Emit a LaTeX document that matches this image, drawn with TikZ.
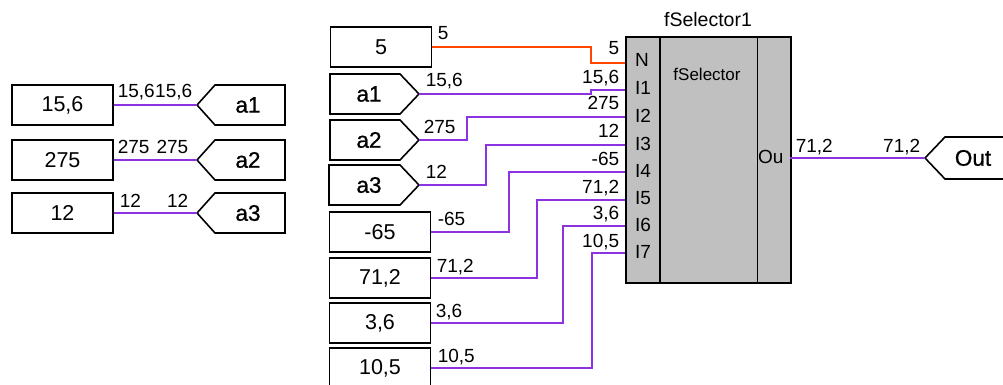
\documentclass[tikz,border=0pt]{standalone}
\usepackage{fontspec}
\setmainfont{Liberation Sans}
\newfontfamily\connfont[FakeBold=0.9]{Liberation Sans}
\definecolor{wirepurple}{RGB}{140,50,225}
\definecolor{wirered}{RGB}{255,69,0}
\definecolor{blockgray}{RGB}{192,192,192}
\begin{document}
\begin{tikzpicture}[x=1pt,y=-1pt,
  valbox/.style={draw, line width=1.6pt, fill=white, minimum width=101pt, minimum height=40pt, inner sep=0pt, font=\fontsize{21.5}{24}\selectfont},
  outline/.style={draw, line width=1.6pt, fill=white, line join=miter},
  conntext/.style={font=\connfont\fontsize{22.5}{24}\selectfont, inner sep=0pt},
  wire/.style={line width=2pt, wirepurple},
  wiren/.style={line width=2pt, wirered},
  lbl/.style={font=\fontsize{19}{22}\selectfont, inner sep=0.6pt, fill=white},
  port/.style={font=\fontsize{19}{22}\selectfont, inner sep=0pt},
  blockline/.style={line width=1.6pt}]
\useasboundingbox (0,0) rectangle (1003,385);
\clip (0,0) rectangle (1003,385);

% ---------- left group ----------
\node[valbox] (c1) at (62.5,105) {15,6};
\node[valbox] (c2) at (62.5,160) {275};
\node[valbox] (c3) at (62.5,213) {12};

\draw[outline] (197,105) -- (215,85) -- (285,85) -- (285,125) -- (215,125) -- cycle;
\draw[outline] (197,160) -- (215,140) -- (285,140) -- (285,180) -- (215,180) -- cycle;
\draw[outline] (197,213) -- (215,193) -- (285,193) -- (285,233) -- (215,233) -- cycle;
\node[conntext] (la1) at (248,105) {a1};
\node[conntext] (la2) at (248,160) {a2};
\node[conntext] (la3) at (248,213) {a3};
\coordinate (la1tip) at (197,105);
\coordinate (la2tip) at (197,160);
\coordinate (la3tip) at (197,213);

\draw[wire] (c1.east) -- (la1tip);
\draw[wire] (c2.east) -- (la2tip);
\draw[wire] (c3.east) -- (la3tip);

\node[lbl, anchor=base west] (l1a) at (117,98) {15,6};
\node[lbl, anchor=base east] (l1b) at (193,98) {15,6};
\node[lbl, anchor=base west] (l2a) at (117,153) {275};
\node[lbl, anchor=base east] (l2b) at (189,153) {275};
\node[lbl, anchor=base west] (l3a) at (119,207) {12};
\node[lbl, anchor=base east] (l3b) at (189,207) {12};

% ---------- block ----------
\node[draw, fill=blockgray, line width=1.6pt, minimum width=165pt, minimum height=246pt, anchor=north west, inner sep=0pt] (blk) at (625,36) {};
\draw[blockline] ([xshift=35pt]blk.north west) -- ([xshift=35pt]blk.south west);
\draw[blockline] ([xshift=-34pt]blk.north east) -- ([xshift=-34pt]blk.south east);
\node[port, anchor=base, font=\fontsize{19.5}{22}\selectfont] (title) at (708,27) {fSelector1};
\node[port, anchor=base, font=\fontsize{17}{20}\selectfont] (fname) at (707,81) {fSelector};
\node[port, anchor=base west] (tN) at (635,67) {N};
\node[port, anchor=base west] (tI1) at (635,95) {I1};
\node[port, anchor=base west] (tI2) at (635,122) {I2};
\node[port, anchor=base west] (tI3) at (635,150) {I3};
\node[port, anchor=base west] (tI4) at (635,177) {I4};
\node[port, anchor=base west] (tI5) at (635,204) {I5};
\node[port, anchor=base west] (tI6) at (635,231) {I6};
\node[port, anchor=base west] (tI7) at (635,258) {I7};
\node[port, anchor=base west] (tOu) at (758,163) {Ou};

\coordinate (pN) at (625,63);
\coordinate (pI1) at (625,90);
\coordinate (pI2) at (625,117);
\coordinate (pI3) at (625,145);
\coordinate (pI4) at (625,172);
\coordinate (pI5) at (625,200);
\coordinate (pI6) at (625,226);
\coordinate (pI7) at (625,253);
\coordinate (pOut) at (790,158);

% ---------- main inputs ----------
\node[valbox] (v5) at (381,47) {5};
\node[valbox] (v65) at (380,232) {-65};
\node[valbox] (v712) at (380,278) {71,2};
\node[valbox] (v36) at (380,323) {3,6};
\node[valbox] (v105) at (380,368) {10,5};

\draw[outline] (330,74) -- (400,74) -- (419,94) -- (400,114) -- (330,114) -- cycle;
\draw[outline] (330,120) -- (400,120) -- (419,140) -- (400,160) -- (330,160) -- cycle;
\draw[outline] (329,165) -- (400,165) -- (419,185) -- (400,205) -- (329,205) -- cycle;
\node[conntext] (ma1) at (369,94) {a1};
\node[conntext] (ma2) at (369,140) {a2};
\node[conntext] (ma3) at (369,185) {a3};
\coordinate (ma1tip) at (419,94);
\coordinate (ma2tip) at (419,140);
\coordinate (ma3tip) at (419,185);

\draw[wiren] (v5.east) -- ++(159,0) |- (pN);
\draw[wire] (ma1tip) -- ++(172,0) |- (pI1);
\draw[wire] (ma2tip) -- ++(48,0) |- (pI2);
\draw[wire] (ma3tip) -- ++(67,0) |- (pI3);
\draw[wire] (v65.east) -- ++(78,0) |- (pI4);
\draw[wire] (v712.east) -- ++(106,0) |- (pI5);
\draw[wire] (v36.east) -- ++(132,0) |- (pI6);
\draw[wire] (v105.east) -- ++(161,0) |- (pI7);

\node[lbl, anchor=base west] (w5a) at (437,40) {5};
\node[lbl, anchor=base west] (w1a) at (425,87) {15,6};
\node[lbl, anchor=base west] (w2a) at (423,133) {275};
\node[lbl, anchor=base west] (w3a) at (425,178) {12};
\node[lbl, anchor=base west] (w4a) at (437,225) {-65};
\node[lbl, anchor=base west] (w5b) at (436,272) {71,2};
\node[lbl, anchor=base west] (w6a) at (435,317) {3,6};
\node[lbl, anchor=base west] (w7a) at (437,362) {10,5};

\node[lbl, anchor=base east] (r5) at (620,55) {5};
\node[lbl, anchor=base east] (r1) at (620,84) {15,6};
\node[lbl, anchor=base east] (r2) at (620,110) {275};
\node[lbl, anchor=base east] (r3) at (620,138) {12};
\node[lbl, anchor=base east] (r4) at (620,165) {-65};
\node[lbl, anchor=base east] (r5b) at (620,193) {71,2};
\node[lbl, anchor=base east] (r6) at (620,219) {3,6};
\node[lbl, anchor=base east] (r7) at (620,247) {10,5};

% ---------- output ----------
\draw[outline] (925,158) -- (945,137) -- (1010,137) -- (1010,179) -- (945,179) -- cycle;
\node[conntext] (out) at (973,158) {Out};
\coordinate (outtip) at (925,158);
\draw[wire] (pOut) -- (outtip);
\node[lbl, anchor=base west] (o1) at (795,152) {71,2};
\node[lbl, anchor=base east] (o2) at (921,152) {71,2};
\end{tikzpicture}
\end{document}
